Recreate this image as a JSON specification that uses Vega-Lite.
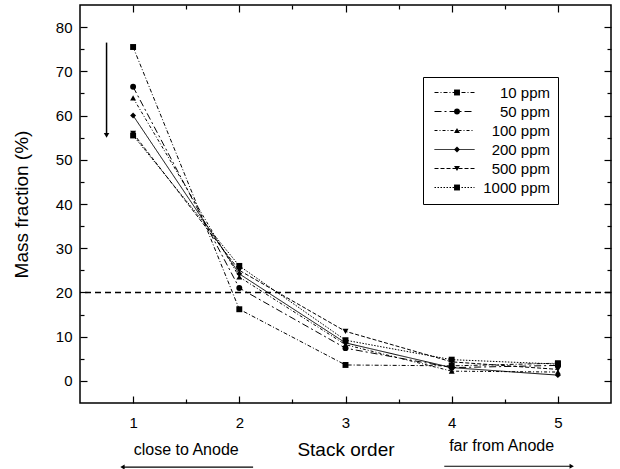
{
  "$schema": "https://vega.github.io/schema/vega-lite/v6.json",
  "width": 531,
  "height": 398,
  "autosize": {"type": "none"},
  "padding": {"left": 80, "top": 5, "right": 9, "bottom": 66},
  "config": {
    "font": "Liberation Sans",
    "view": {"stroke": "black", "strokeWidth": 1.5},
    "axis": {
      "domain": false,
      "tickColor": "black",
      "tickWidth": 1.2,
      "labelColor": "black",
      "labelFont": "Liberation Sans",
      "labelFontSize": 15,
      "grid": false,
      "titleColor": "black",
      "titleFont": "Liberation Sans",
      "titleFontSize": 19,
      "titleFontWeight": "normal"
    }
  },
  "datasets": {
    "series": [
      {"stack": 1, "series": "10 ppm", "value": 75.5},
      {"stack": 2, "series": "10 ppm", "value": 16.2},
      {"stack": 3, "series": "10 ppm", "value": 3.6},
      {"stack": 4, "series": "10 ppm", "value": 3.4},
      {"stack": 5, "series": "10 ppm", "value": 4.0},
      {"stack": 1, "series": "50 ppm", "value": 66.5},
      {"stack": 2, "series": "50 ppm", "value": 21.0},
      {"stack": 3, "series": "50 ppm", "value": 7.4},
      {"stack": 4, "series": "50 ppm", "value": 3.0},
      {"stack": 5, "series": "50 ppm", "value": 3.5},
      {"stack": 1, "series": "100 ppm", "value": 64.0},
      {"stack": 2, "series": "100 ppm", "value": 23.5},
      {"stack": 3, "series": "100 ppm", "value": 8.2},
      {"stack": 4, "series": "100 ppm", "value": 2.2},
      {"stack": 5, "series": "100 ppm", "value": 2.0},
      {"stack": 1, "series": "200 ppm", "value": 60.0},
      {"stack": 2, "series": "200 ppm", "value": 24.2},
      {"stack": 3, "series": "200 ppm", "value": 8.6},
      {"stack": 4, "series": "200 ppm", "value": 3.0},
      {"stack": 5, "series": "200 ppm", "value": 1.3},
      {"stack": 1, "series": "500 ppm", "value": 56.0},
      {"stack": 2, "series": "500 ppm", "value": 25.0},
      {"stack": 3, "series": "500 ppm", "value": 11.2},
      {"stack": 4, "series": "500 ppm", "value": 4.3},
      {"stack": 5, "series": "500 ppm", "value": 2.6},
      {"stack": 1, "series": "1000 ppm", "value": 55.5},
      {"stack": 2, "series": "1000 ppm", "value": 26.0},
      {"stack": 3, "series": "1000 ppm", "value": 9.2},
      {"stack": 4, "series": "1000 ppm", "value": 4.8},
      {"stack": 5, "series": "1000 ppm", "value": 3.8}
    ],
    "arrow": [{"x": 0.75, "y": 76.5, "y2": 56}],
    "tip": [{"x": 0.75, "y": 55.5}],
    "ref": [{"y": 20}],
    "notes": [
      {"x": 1.5, "y": -15.6, "text": "close to Anode"},
      {"x": 4.47, "y": -14.7, "text": "far from Anode"}
    ],
    "leftArrow": [{"x": 0.9, "x2": 2.13, "y": -19.5}],
    "rightArrow": [{"x": 3.93, "x2": 5.13, "y": -19.3}]
  },
  "layer": [
    {
      "data": {"name": "series"},
      "mark": {"type": "line", "strokeWidth": 1, "color": "black"},
      "encoding": {
        "x": {
          "field": "stack", "type": "quantitative",
          "scale": {"domain": [0.5, 5.5], "nice": false, "zero": false},
          "axis": {
            "orient": "bottom", "offset": -7, "tickSize": 7,
            "values": [1, 2, 3, 4, 5], "format": "d",
            "labelPadding": 12,
            "title": "Stack order",
            "titleY": 53,
            "titleBaseline": "middle"
          }
        },
        "y": {
          "field": "value", "type": "quantitative",
          "scale": {"domain": [-5, 85], "nice": false, "zero": false},
          "axis": {
            "orient": "left", "offset": -7, "tickSize": 7,
            "values": [0, 10, 20, 30, 40, 50, 60, 70, 80],
            "labelPadding": 8,
            "title": "Mass fraction (%)",
            "titlePadding": 24
          }
        },
        "strokeDash": {
          "field": "series", "type": "nominal",
          "scale": {
            "domain": ["10 ppm", "50 ppm", "100 ppm", "200 ppm", "500 ppm", "1000 ppm"],
            "range": [[4, 2, 1, 2], [7, 3, 2, 3], [3, 2, 1, 2], [1, 0], [4, 2], [1.5, 1.5]]
          },
          "legend": {
            "orient": "none", "legendX": 343, "legendY": 72, "title": null,
            "symbolType": "M-4,0H4", "symbolSize": 100, "symbolStrokeWidth": 1,
            "symbolStrokeColor": "black", "symbolOffset": 16,
            "labelAlign": "right", "labelOffset": 88, "labelFontSize": 15,
            "labelFont": "Liberation Sans", "labelColor": "black",
            "padding": 8, "rowPadding": 3, "strokeColor": "black"
          }
        }
      }
    },
    {
      "data": {"name": "series"},
      "mark": {"type": "point", "filled": true, "color": "black", "opacity": 1, "size": 35},
      "encoding": {
        "x": {
          "field": "stack", "type": "quantitative",
          "axis": {"orient": "top", "offset": -7, "tickSize": 7, "labels": false, "title": null, "values": [1, 2, 3, 4, 5]}
        },
        "y": {
          "field": "value", "type": "quantitative",
          "axis": {"orient": "right", "offset": -7, "tickSize": 7, "labels": false, "title": null, "values": [0, 10, 20, 30, 40, 50, 60, 70, 80]}
        },
        "shape": {
          "field": "series", "type": "nominal",
          "sort": ["10 ppm", "50 ppm", "100 ppm", "200 ppm", "500 ppm", "1000 ppm"],
          "scale": {"range": ["square", "circle", "triangle-up", "diamond", "triangle-down", "square"]},
          "legend": {
            "orient": "none", "legendX": 343, "legendY": 72, "title": null,
            "symbolSize": 35, "symbolOffset": 18.5, "symbolFillColor": "black",
            "symbolStrokeColor": "black", "symbolStrokeWidth": 0,
            "labelAlign": "right", "labelOffset": 88, "labelFontSize": 15,
            "labelColor": "transparent", "padding": 8, "rowPadding": 3
          }
        }
      }
    },
    {
      "data": {"name": "ref"},
      "mark": {"type": "rule", "strokeDash": [6, 4], "strokeWidth": 1.5, "color": "black"},
      "encoding": {
        "y": {
          "field": "y", "type": "quantitative",
          "axis": {"orient": "left", "offset": -4, "tickSize": 4, "labels": false, "title": null, "values": [5, 15, 25, 35, 45, 55, 65, 75]}
        }
      }
    },
    {
      "data": {"name": "arrow"},
      "mark": {"type": "rule", "strokeWidth": 1.5, "color": "black"},
      "encoding": {
        "x": {
          "field": "x", "type": "quantitative",
          "axis": {"orient": "bottom", "offset": -4, "tickSize": 4, "labels": false, "title": null, "values": [1.5, 2.5, 3.5, 4.5]}
        },
        "y": {
          "field": "y", "type": "quantitative",
          "axis": {"orient": "right", "offset": -4, "tickSize": 4, "labels": false, "title": null, "values": [5, 15, 25, 35, 45, 55, 65, 75]}
        },
        "y2": {"field": "y2"}
      }
    },
    {
      "data": {"name": "tip"},
      "mark": {"type": "point", "shape": "triangle-down", "filled": true, "color": "black", "opacity": 1, "size": 30},
      "encoding": {
        "x": {
          "field": "x", "type": "quantitative",
          "axis": {"orient": "top", "offset": -4, "tickSize": 4, "labels": false, "title": null, "values": [1.5, 2.5, 3.5, 4.5]}
        },
        "y": {"field": "y", "type": "quantitative", "axis": null}
      }
    },
    {
      "data": {"name": "notes"},
      "mark": {"type": "text", "fontSize": 16, "font": "Liberation Sans", "color": "black", "baseline": "middle"},
      "encoding": {
        "x": {"field": "x", "type": "quantitative", "axis": null},
        "y": {"field": "y", "type": "quantitative", "axis": null},
        "text": {"field": "text"}
      }
    },
    {
      "data": {"name": "leftArrow"},
      "layer": [
        {
          "mark": {"type": "rule", "strokeWidth": 1.2, "color": "black"},
          "encoding": {
            "x": {"field": "x", "type": "quantitative", "axis": null},
            "x2": {"field": "x2"},
            "y": {"field": "y", "type": "quantitative", "axis": null}
          }
        },
        {
          "mark": {"type": "point", "shape": "triangle-left", "filled": true, "color": "black", "opacity": 1, "size": 25},
          "encoding": {
            "x": {"field": "x", "type": "quantitative", "axis": null},
            "y": {"field": "y", "type": "quantitative", "axis": null}
          }
        }
      ]
    },
    {
      "data": {"name": "rightArrow"},
      "layer": [
        {
          "mark": {"type": "rule", "strokeWidth": 1.2, "color": "black"},
          "encoding": {
            "x": {"field": "x", "type": "quantitative", "axis": null},
            "x2": {"field": "x2"},
            "y": {"field": "y", "type": "quantitative", "axis": null}
          }
        },
        {
          "mark": {"type": "point", "shape": "triangle-right", "filled": true, "color": "black", "opacity": 1, "size": 25},
          "encoding": {
            "x": {"field": "x2", "type": "quantitative", "axis": null},
            "y": {"field": "y", "type": "quantitative", "axis": null}
          }
        }
      ]
    }
  ],
  "resolve": {"axis": {"x": "independent", "y": "independent"}}
}
